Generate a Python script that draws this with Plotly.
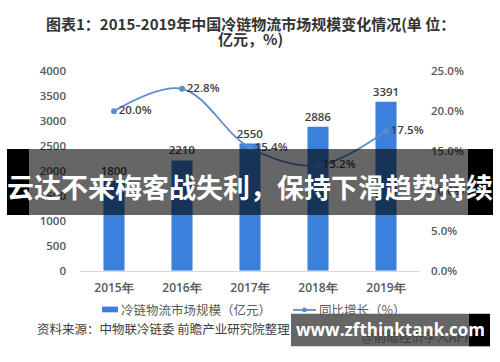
import plotly.graph_objects as go

# ---- data ----
years = ["2015年", "2016年", "2017年", "2018年", "2019年"]
market_size = [1800, 2210, 2550, 2886, 3391]
growth = [20.0, 22.8, 15.4, 13.2, 17.5]
left_ticks = [0, 500, 1000, 1500, 2000, 2500, 3000, 3500, 4000]
right_ticks = [0, 5, 10, 15, 20, 25]
right_tick_text = ["0.0%", "5.0%", "10.0%", "15.0%", "20.0%", "25.0%"]

title_line1 = "图表1：2015-2019年中国冷链物流市场规模变化情况(单 位："
title_line2 = "亿元，%)"
bar_name = "冷链物流市场规模（亿元）"
line_name = "同比增长（%）"
source_text = "资料来源：中物联冷链委 前瞻产业研究院整理"
app_text = "@前瞻经济学人APP"
banner_text = "云达不来梅客战失利，保持下滑趋势持续"
site_text = "www.zfthinktank.com"

W, H = 500, 362
CJK = "Noto Sans CJK SC"
NUM = "Open Sans"


def px(x):
    return x / W


def py(y):
    return 1 - y / H


BAR_COLOR = "#3b80da"
LINE_COLOR = "#5b8dcc"
TICK_COLOR = "#595959"

fig = go.Figure()
fig.add_trace(go.Bar(
    x=years, y=market_size, width=0.31, marker=dict(color=BAR_COLOR, line=dict(width=0)),
    text=[str(v) for v in market_size], textposition="outside", cliponaxis=False,
    constraintext="none",
    textfont=dict(family=NUM, size=11.5, color="#404040", weight=600),
    showlegend=False, yaxis="y",
))
fig.add_trace(go.Scatter(
    x=years, y=growth, yaxis="y2", mode="lines+markers+text",
    line=dict(shape="spline", smoothing=1, color=LINE_COLOR, width=1.8),
    marker=dict(size=6, color=LINE_COLOR),
    text=[f"{v:.1f}%" for v in growth], textposition="middle right", cliponaxis=False,
    textfont=dict(family=NUM, size=11.5, color="#404040", weight=600),
    showlegend=False,
))

shapes = []
annotations = []

# title
annotations.append(dict(x=0.5, y=py(16), xref="paper", yref="paper", text=title_line1, showarrow=False,
                        font=dict(family=CJK, size=15, color="#333333", weight="bold"),
                        xanchor="center", yanchor="middle"))
annotations.append(dict(x=0.5, y=py(32), xref="paper", yref="paper", text=title_line2, showarrow=False,
                        font=dict(family=CJK, size=15, color="#333333", weight="bold"),
                        xanchor="center", yanchor="middle"))

# legend (manual)
shapes.append(dict(type="rect", xref="paper", yref="paper", x0=px(102), x1=px(118), y0=py(311.5), y1=py(317.5),
                   fillcolor=BAR_COLOR, line=dict(width=0)))
annotations.append(dict(x=px(119), y=py(315), xref="paper", yref="paper", text=bar_name, showarrow=False,
                        font=dict(family=CJK, size=12.5, color=TICK_COLOR), xanchor="left", yanchor="middle"))
shapes.append(dict(type="line", xref="paper", yref="paper", x0=px(293), x1=px(316), y0=py(315), y1=py(315),
                   line=dict(color=LINE_COLOR, width=1.8)))
shapes.append(dict(type="circle", xref="paper", yref="paper", x0=px(302), x1=px(307), y0=py(312.5), y1=py(317.5),
                   fillcolor=LINE_COLOR, line=dict(width=0)))
annotations.append(dict(x=px(317), y=py(315), xref="paper", yref="paper", text=line_name, showarrow=False,
                        font=dict(family=CJK, size=12.5, color=TICK_COLOR), xanchor="left", yanchor="middle"))

# source line
annotations.append(dict(x=px(35), y=py(334), xref="paper", yref="paper", text=source_text, showarrow=False,
                        font=dict(family=CJK, size=12.5, color="#404040"), xanchor="left", yanchor="middle"))
annotations.append(dict(x=px(360), y=py(343), xref="paper", yref="paper", text=app_text, showarrow=False,
                        font=dict(family=CJK, size=12.5, color="#3c3c3c"), xanchor="left", yanchor="middle"))

# banner overlay
shapes.append(dict(type="rect", xref="paper", yref="paper", x0=px(7), x1=px(29), y0=py(216), y1=py(147),
                   fillcolor="black", line=dict(width=0), layer="above"))
shapes.append(dict(type="rect", xref="paper", yref="paper", x0=px(29), x1=px(468), y0=py(216), y1=py(147),
                   fillcolor="rgba(0,0,0,0.6)", line=dict(width=0), layer="above"))
shapes.append(dict(type="rect", xref="paper", yref="paper", x0=px(468), x1=px(493), y0=py(216), y1=py(147),
                   fillcolor="black", line=dict(width=0), layer="above"))
annotations.append(dict(x=px(250), y=py(186), xref="paper", yref="paper", text=banner_text, showarrow=False,
                        font=dict(family=CJK, size=27, color="white", weight="bold"),
                        xanchor="center", yanchor="middle"))

# site watermark
shapes.append(dict(type="rect", xref="paper", yref="paper", x0=px(291), x1=px(469), y0=py(353), y1=py(319),
                   fillcolor="rgba(0,0,0,0.6)", line=dict(width=0), layer="above"))
shapes.append(dict(type="rect", xref="paper", yref="paper", x0=px(469), x1=px(490), y0=py(353), y1=py(319),
                   fillcolor="black", line=dict(width=0), layer="above"))
annotations.append(dict(x=px(390), y=py(335), xref="paper", yref="paper", text=site_text, showarrow=False,
                        font=dict(family=NUM, size=17, color="white", weight="bold"),
                        xanchor="center", yanchor="middle"))

fig.update_layout(
    width=W, height=H, margin=dict(l=0, r=0, t=0, b=0),
    paper_bgcolor="white", plot_bgcolor="white",
    bargap=0.69,
    xaxis=dict(domain=[px(80), px(420)], type="category", range=[-0.5, 4.5],
               showline=True, linecolor="#d9d9d9", linewidth=1, ticks="", showgrid=False,
               tickfont=dict(family=NUM, size=12, color=TICK_COLOR, weight=600), ticklabelstandoff=6),
    yaxis=dict(domain=[py(274), py(66)], range=[0, 4000], tickvals=left_ticks,
               showgrid=False, zeroline=False, showline=False, ticks="",
               tickfont=dict(family=NUM, size=11.5, color=TICK_COLOR, weight=600), ticklabelstandoff=13),
    yaxis2=dict(overlaying="y", side="right", range=[0, 25], tickvals=right_ticks, ticktext=right_tick_text,
                showgrid=False, zeroline=False, showline=False, ticks="",
                tickfont=dict(family=NUM, size=11.5, color=TICK_COLOR, weight=600), ticklabelstandoff=10),
    shapes=shapes, annotations=annotations,
)

fig.write_html("out.html")
